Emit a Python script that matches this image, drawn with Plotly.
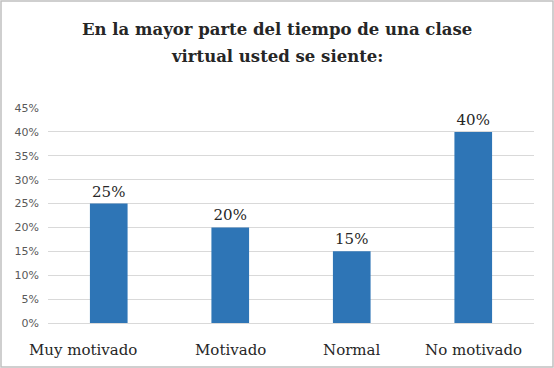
import plotly.graph_objects as go

categories = ["Muy motivado", "Motivado", "Normal", "No motivado"]
values = [0.25, 0.20, 0.15, 0.40]
labels = ["25%", "20%", "15%", "40%"]
tick_vals = [0, 0.05, 0.10, 0.15, 0.20, 0.25, 0.30, 0.35, 0.40, 0.45]
tick_text = ["0%", "5%", "10%", "15%", "20%", "25%", "30%", "35%", "40%", "45%"]
title_lines = ["En la mayor parte del tiempo de una clase", "virtual usted se siente:"]

W, H = 554, 368
L, R, T, B = 48, 20, 108, 45
pw, ph = W - L - R, H - T - B
SERIF = "DejaVu Serif"
TXT = "#262626"


def py(px):
    return (H - B - px) / ph


fig = go.Figure(go.Bar(
    x=categories, y=values, text=labels, textposition="outside",
    textfont=dict(family=SERIF, size=15, color=TXT),
    marker=dict(color="#2E75B6", line=dict(width=0)),
    cliponaxis=False,
))

annotations = []
for i, line in enumerate(title_lines):
    annotations.append(dict(
        text="<b>%s</b>" % line, xref="paper", yref="paper",
        x=(W / 2 - L) / pw, y=py(29 + 27 * i), xanchor="center", yanchor="middle",
        showarrow=False, font=dict(family=SERIF, size=16.5, color=TXT),
    ))
label_shift = [-26, 0, 0, 0]
for c, s in zip(categories, label_shift):
    annotations.append(dict(
        text=c, xref="x", yref="paper", x=c, y=0, xanchor="center", yanchor="middle",
        yshift=-27, xshift=s, showarrow=False,
        font=dict(family=SERIF, size=15, color=TXT),
    ))

fig.update_layout(
    width=W, height=H,
    margin=dict(l=L, r=R, t=T, b=B),
    paper_bgcolor="white", plot_bgcolor="white",
    bargap=0.69,
    showlegend=False,
    annotations=annotations,
    xaxis=dict(
        type="category", range=[-0.5, len(categories) - 0.5],
        showgrid=False, showline=True, linecolor="#d9d9d9", linewidth=1,
        ticks="", showticklabels=False,
        fixedrange=True,
    ),
    yaxis=dict(
        range=[0, 0.45], tickvals=tick_vals, ticktext=tick_text,
        showgrid=True, gridcolor="#d9d9d9", gridwidth=1, zeroline=False,
        ticks="", ticklabelstandoff=8,
        tickfont=dict(family="DejaVu Sans", size=11, color="#595959"),
        fixedrange=True,
    ),
    shapes=[dict(
        type="rect", xref="paper", yref="paper",
        x0=-(L - 1) / pw, x1=1 + (R - 1) / pw,
        y0=-(B - 1) / ph, y1=1 + (T - 1) / ph,
        line=dict(color="#c0c0c0", width=1.5), layer="below",
    )],
)

fig.write_html("out.html", post_script="document.body.style.margin='0';", config={"displayModeBar": False})
